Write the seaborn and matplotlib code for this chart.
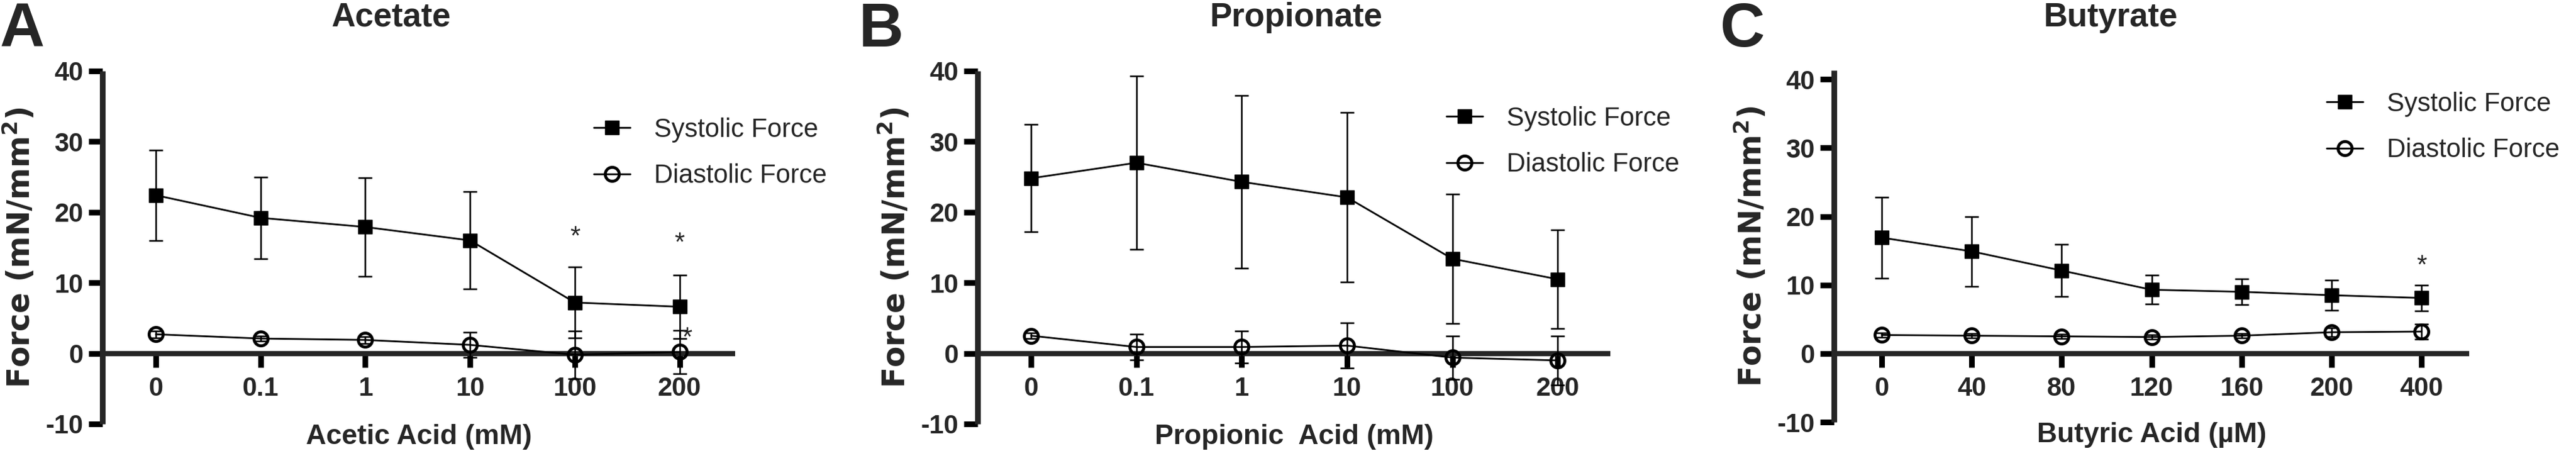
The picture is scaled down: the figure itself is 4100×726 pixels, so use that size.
import matplotlib
matplotlib.use("Agg")
import matplotlib.pyplot as plt
import seaborn as sns
import pandas as pd

# Panel A - acetate (mM)
acetate_doses = ["0", "0.1", "1", "10", "100", "200"]
acetate_sys = [22.4, 19.2, 17.9, 16.0, 7.2, 6.6]
acetate_sys_sd = [6.4, 5.8, 7.0, 6.9, 5.0, 4.5]
acetate_dia = [2.7, 2.1, 1.9, 1.2, -0.2, 0.2]
acetate_dia_sd = [0.5, 0.4, 0.5, 1.8, 3.4, 3.1]

# Panel B - propionate (mM)
propionate_doses = ["0", "0.1", "1", "10", "100", "200"]
propionate_sys = [24.8, 27.0, 24.3, 22.1, 13.4, 10.5]
propionate_sys_sd = [7.6, 12.3, 12.2, 12.0, 9.2, 7.0]
propionate_dia = [2.5, 0.9, 0.9, 1.1, -0.6, -1.0]
propionate_dia_sd = [0.4, 1.8, 2.3, 3.2, 3.1, 3.5]

# Panel C - butyrate (uM)
butyrate_doses = ["0", "40", "80", "120", "160", "200", "400"]
butyrate_sys = [16.9, 14.9, 12.1, 9.3, 9.0, 8.5, 8.1]
butyrate_sys_sd = [5.9, 5.1, 3.8, 2.1, 1.9, 2.2, 1.9]
butyrate_dia = [2.7, 2.6, 2.5, 2.4, 2.6, 3.1, 3.2]
butyrate_dia_sd = [0.3, 0.3, 0.3, 0.3, 0.3, 0.6, 1.1]

# significance stars: (dose index, y value, x nudge)
acetate_stars = [(4, 16.4, 0.0), (5, 15.5, 0.0), (5, 2.1, 0.07)]
propionate_stars = []
butyrate_stars = [(6, 12.7, 0.0)]

sns.set_style("ticks")
plt.rcParams["font.family"] = ["Liberation Sans", "DejaVu Sans"]
plt.rcParams["axes.unicode_minus"] = False
plt.rcParams["mathtext.fontset"] = "dejavusans"

W, H = 4100, 726
fig = plt.figure(figsize=(W / 100, H / 100), dpi=100)

panels = [
    dict(doses=acetate_doses, sys=acetate_sys, sys_sd=acetate_sys_sd,
         dia=acetate_dia, dia_sd=acetate_dia_sd, stars=acetate_stars,
         xlabel="Acetic Acid (mM)", title="Acetate", letter="A",
         box=(163, 1170, 113, 675), ylim=(-10, 40), xlim=(-0.51, 5.53),
         title_x=623, letter_x=0, leg=(945, 187)),
    dict(doses=propionate_doses, sys=propionate_sys, sys_sd=propionate_sys_sd,
         dia=propionate_dia, dia_sd=propionate_dia_sd, stars=propionate_stars,
         xlabel="Propionic  Acid (mM)", title="Propionate", letter="B",
         box=(1556, 2563, 113, 675), ylim=(-10, 40), xlim=(-0.507, 5.50),
         title_x=2063, letter_x=1366, leg=(2302, 169)),
    dict(doses=butyrate_doses, sys=butyrate_sys, sys_sd=butyrate_sys_sd,
         dia=butyrate_dia, dia_sd=butyrate_dia_sd, stars=butyrate_stars,
         xlabel="Butyric Acid (\u00b5M)", title="Butyrate", letter="C",
         box=(2919, 3930, 112, 672), ylim=(-10, 41.3), xlim=(-0.53, 6.53),
         title_x=3359, letter_x=2738, leg=(3703, 146)),
]

for p in panels:
    x0, x1, y0, y1 = p["box"]
    ax = fig.add_axes([x0 / W, 1 - y1 / H, (x1 - x0) / W, (y1 - y0) / H])
    pos = list(range(len(p["doses"])))

    df = pd.DataFrame({"pos": pos, "sys": p["sys"], "dia": p["dia"]})

    ax.errorbar(pos, p["sys"], yerr=p["sys_sd"], fmt="none", ecolor="black",
                elinewidth=1.8, capsize=8, capthick=1.8, zorder=2.8, clip_on=False)
    ax.errorbar(pos, p["dia"], yerr=p["dia_sd"], fmt="none", ecolor="black",
                elinewidth=1.8, capsize=8, capthick=1.8, zorder=2.8, clip_on=False)

    sns.lineplot(data=df, x="pos", y="sys", ax=ax, color="black", linewidth=2,
                 marker="s", markersize=15.5, markeredgecolor="black",
                 markeredgewidth=1, errorbar=None, label="Systolic Force",
                 zorder=3, clip_on=False)
    sns.lineplot(data=df, x="pos", y="dia", ax=ax, color="black", linewidth=2,
                 marker="o", markersize=16, markerfacecolor="none",
                 markeredgecolor="black", markeredgewidth=3.4, errorbar=None,
                 label="Diastolic Force", zorder=3, clip_on=False)

    for i, yv, dx in p["stars"]:
        ax.text(i + dx, yv, "*", ha="center", va="center", fontsize=30)

    ax.set_xlim(*p["xlim"])
    ax.set_ylim(*p["ylim"])
    ax.set_xticks(pos)
    ax.set_xticklabels(p["doses"])
    ax.set_yticks([-10, 0, 10, 20, 30, 40])

    for s in ["top", "right"]:
        ax.spines[s].set_visible(False)
    ax.spines["bottom"].set_position(("data", 0))
    ax.spines["bottom"].set_linewidth(6)
    ax.spines["left"].set_linewidth(6.5)
    ax.spines["bottom"].set_capstyle("butt")
    ax.spines["left"].set_capstyle("butt")

    ax.tick_params(axis="both", direction="out", length=16, width=6.5, color="black")
    ax.tick_params(axis="y", pad=6)
    ax.tick_params(axis="x", pad=10)
    for lab in ax.get_xticklabels() + ax.get_yticklabels():
        lab.set_fontsize(30)
        lab.set_fontweight("bold")

    ax.set_xlabel(p["xlabel"], fontsize=32, fontweight="bold")
    ax.xaxis.set_label_coords(0.5, 0.0)
    ax.set_ylabel(r"Force (mN/mm$^{\mathbf{2}}$)", fontsize=35,
                  fontweight="bold", family="DejaVu Sans")
    ax.yaxis.set_label_coords(-105 / (x1 - x0), 0.5)

    lx, ly = p["leg"]
    ax.legend(loc="upper left", bbox_to_anchor=(lx / W, 1 - ly / H),
              bbox_transform=fig.transFigure, frameon=False, fontsize=30,
              handlelength=1.4, handletextpad=0.9, labelspacing=0.8,
              borderpad=0, borderaxespad=0)

    fig.text(p["title_x"] / W, 1 - 42 / H, p["title"], ha="center",
             va="baseline", fontsize=38, fontweight="bold")
    fig.text(p["letter_x"] / W, 1 - 74 / H, p["letter"], ha="left",
             va="baseline", fontsize=71, fontweight="bold")

fig.savefig("out.png", dpi=100)
